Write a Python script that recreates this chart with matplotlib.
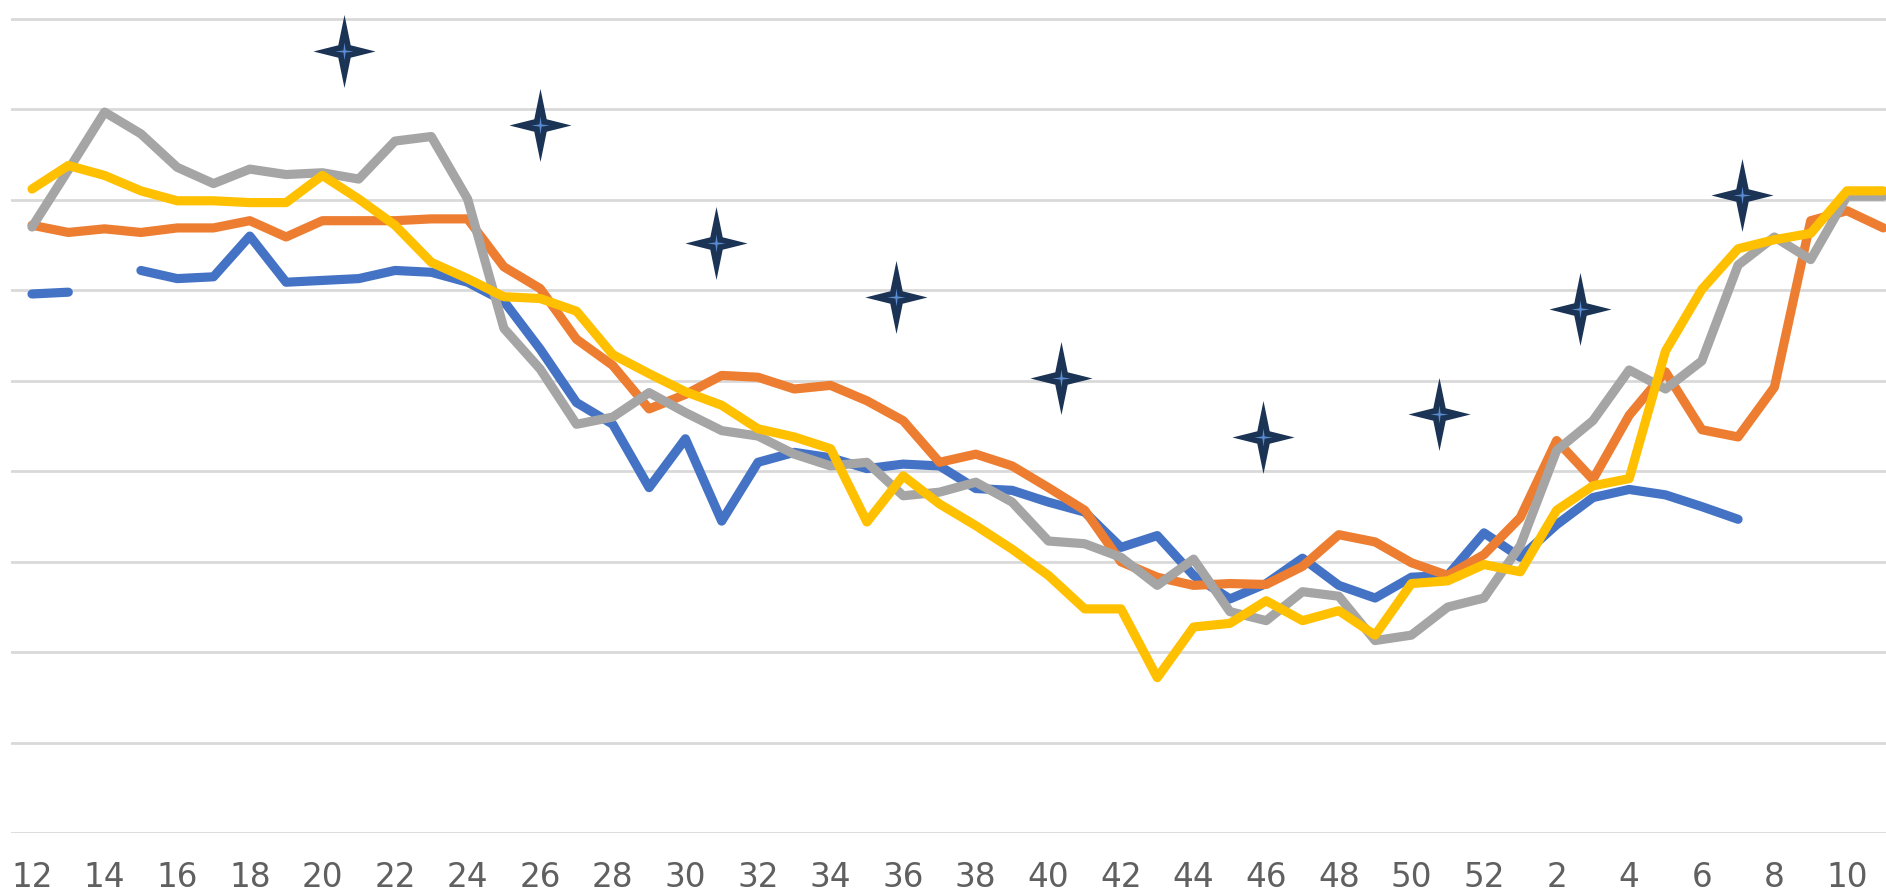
import numpy as np
import matplotlib
matplotlib.use("Agg")
import matplotlib.pyplot as plt
from matplotlib.path import Path

nan = np.nan

# ---- data ----
weeks = list(range(12, 53)) + list(range(1, 12))
tick_weeks = weeks[::2]

blue = [59.6, 59.8, nan, 62.2, 61.3, 61.5, 66.0, 60.9, 61.1, 61.3,
        62.2, 62.0, 60.9, 58.8, 53.5, 47.6, 45.2, 38.2, 43.6, 34.5,
        41.0, 42.1, 41.5, 40.3, 40.8, 40.6, 38.1, 37.9, 36.6, 35.5,
        31.6, 32.9, 28.5, 25.9, 27.6, 30.4, 27.4, 26.0, 28.3, 28.5,
        33.2, 30.5, 34.1, 37.1, 38.0, 37.4, 36.1, 34.7, nan, nan,
        nan, nan]

orange = [67.2, 66.4, 66.8, 66.4, 66.9, 66.9, 67.7, 65.9, 67.7, 67.7,
          67.7, 67.9, 67.9, 62.6, 60.2, 54.6, 51.7, 46.9, 48.5, 50.6,
          50.4, 49.1, 49.5, 47.8, 45.6, 41.0, 41.9, 40.6, 38.2, 35.7,
          30.0, 28.3, 27.4, 27.6, 27.5, 29.5, 33.0, 32.2, 29.9, 28.5,
          30.8, 34.9, 43.4, 39.1, 46.2, 51.0, 44.6, 43.8, 49.3, 67.7,
          68.8, 66.9]

gray = [67.0, 73.3, 79.7, 77.3, 73.6, 71.8, 73.4, 72.8, 73.0, 72.3,
        76.5, 77.0, 70.1, 55.8, 51.3, 45.2, 46.0, 48.7, 46.5, 44.5,
        43.9, 41.9, 40.6, 41.0, 37.3, 37.7, 38.8, 36.6, 32.3, 32.0,
        30.5, 27.4, 30.3, 24.5, 23.5, 26.7, 26.2, 21.3, 21.9, 25.0,
        26.0, 31.8, 42.3, 45.6, 51.2, 49.1, 52.2, 62.8, 65.9, 63.4,
        70.4, 70.4]

yellow = [71.2, 73.8, 72.7, 71.0, 69.9, 69.9, 69.7, 69.7, 72.7, 70.1,
          67.2, 63.1, 61.3, 59.3, 59.1, 57.7, 52.9, 50.8, 48.8, 47.3,
          44.7, 43.8, 42.5, 34.4, 39.5, 36.4, 34.0, 31.4, 28.5, 24.8,
          24.8, 17.2, 22.8, 23.2, 25.7, 23.5, 24.6, 21.9, 27.6, 27.9,
          29.7, 28.9, 35.7, 38.4, 39.2, 53.3, 60.1, 64.6, 65.6, 66.3,
          71.0, 71.0]

# star markers: position along the category axis (fractional index) and value
star_pos = [8.6, 14.0, 18.85, 23.8, 28.35, 33.9, 38.75, 42.65, 47.1]
star_val = [86.5, 78.3, 65.2, 59.3, 50.3, 43.8, 46.3, 57.9, 70.5]

# ---- figure ----
W, H, DPI = 1886, 895, 100
fig = plt.figure(figsize=(W / DPI, H / DPI), dpi=DPI)
fig.patch.set_facecolor("white")

left_px, bottom_px = 11, 60.7
ax = fig.add_axes([left_px / W, bottom_px / H, 1 - left_px / W, (H - bottom_px) / H])
ax.set_facecolor("white")

x = np.arange(len(weeks))
x0_px, step_px = 32.0, 36.3
ax.set_xlim((left_px - x0_px) / step_px, (W - x0_px) / step_px)
ax.set_ylim(0, 92.2)

ax.set_yticks(np.arange(0, 100, 10))
ax.yaxis.grid(True, color="#D9D9D9", linewidth=2.0)
ax.set_axisbelow(True)
ax.tick_params(axis="y", left=False, labelleft=False)
for s in ax.spines.values():
    s.set_visible(False)

ax.set_xticks(x[::2])
ax.set_xticklabels([str(w) for w in tick_weeks])
ax.tick_params(axis="x", length=0, pad=19, labelsize=23.5, labelcolor="#606060")

lw = 6.6
kw = dict(linewidth=lw, solid_capstyle="round", solid_joinstyle="round")
ax.plot(x, blue, color="#4472C4", **kw)
ax.plot(x, orange, color="#ED7D31", **kw)
ax.plot(x, gray, color="#A5A5A5", **kw)
ax.plot(x, yellow, color="#FFC000", **kw)

# four-point star marker
def star_path(rx, waist):
    verts = [(0, 1), (waist, waist), (rx, 0), (waist, -waist),
             (0, -1), (-waist, -waist), (-rx, 0), (-waist, waist), (0, 1)]
    codes = [Path.MOVETO] + [Path.LINETO] * 7 + [Path.CLOSEPOLY]
    return Path(verts, codes)

outer = star_path(0.85, 0.17)
inner = star_path(1.0, 0.12)
ax.plot(star_pos, star_val, linestyle="none", marker=outer, markersize=52.6,
        color="#1B3354", markeredgewidth=0, clip_on=False, zorder=5)
ax.plot(star_pos, star_val, linestyle="none", marker=inner, markersize=13,
        color="#5B8BD0", markeredgewidth=0, clip_on=False, zorder=6)

fig.savefig("out.png", dpi=DPI, facecolor="white")
